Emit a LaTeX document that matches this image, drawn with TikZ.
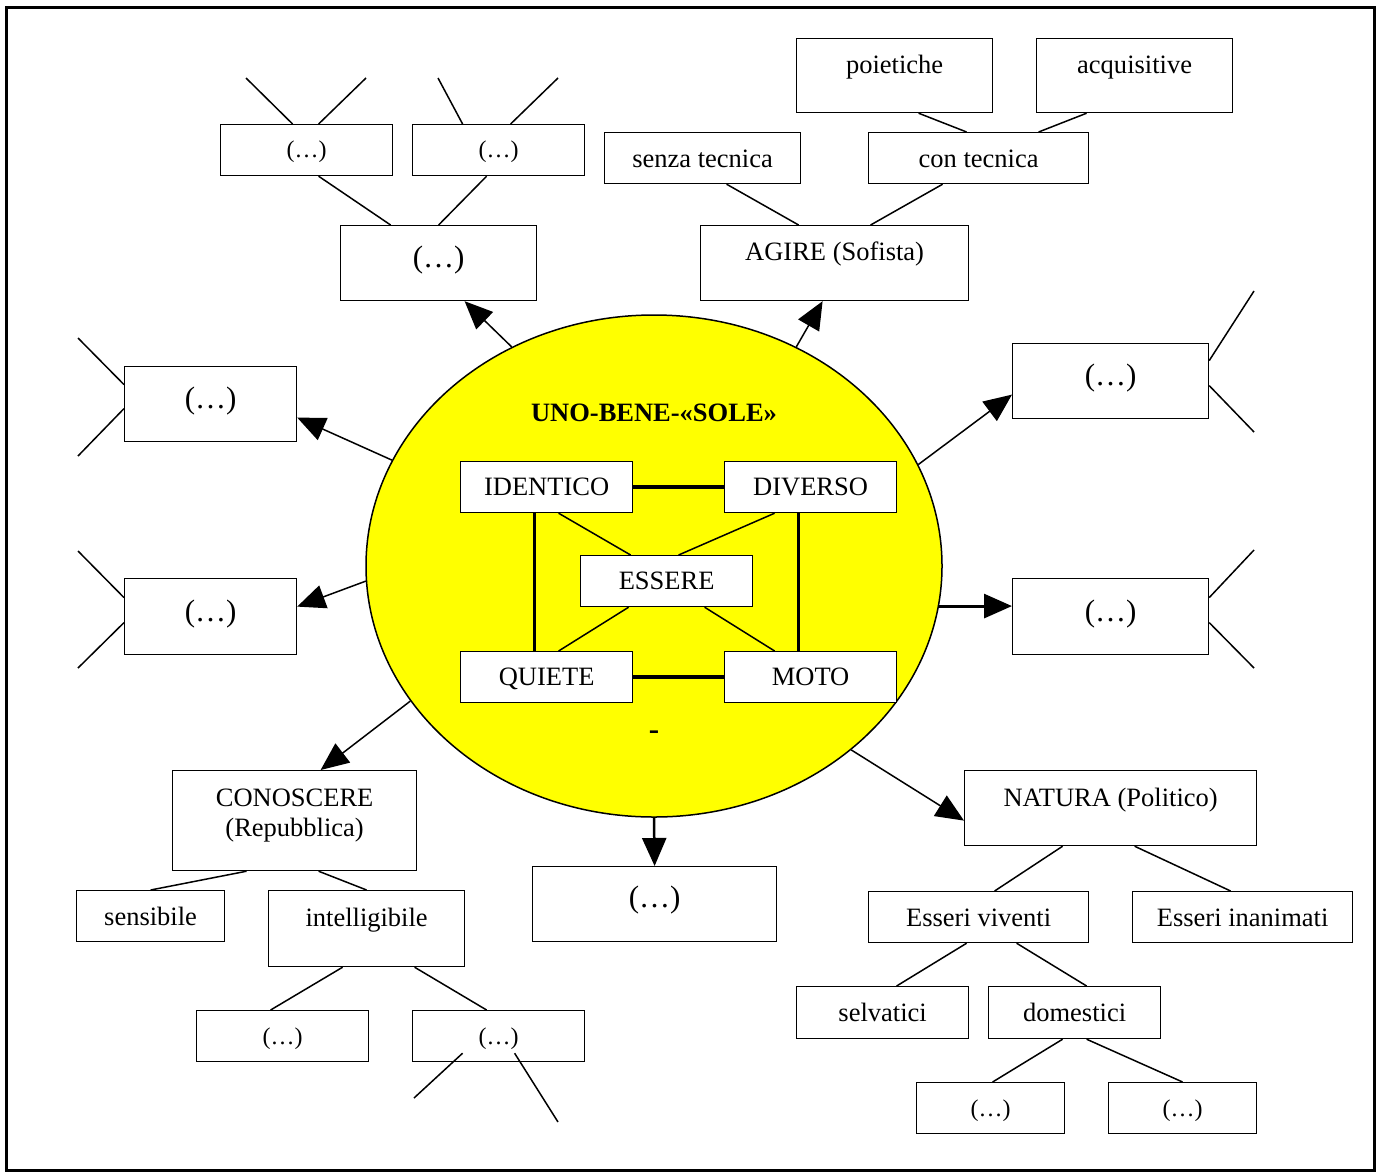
\documentclass[tikz,border=0pt]{standalone}
\usepackage{fontspec}
\setmainfont{Liberation Serif}
\usetikzlibrary{positioning, shapes.geometric, arrows.meta}

\definecolor{giallosole}{RGB}{255,255,0}
\newcommand{\fnorm}{\fontsize{26.5}{30}\selectfont}
\newcommand{\fgrande}{\fontsize{31}{34}\selectfont}
\newcommand{\fpiccolo}{\fontsize{24}{27}\selectfont}

\begin{document}
\begin{tikzpicture}[
    x=1pt, y=-1pt,
    bx/.style n args={3}{draw, fill=white, line width=1.2pt, anchor=north west, inner sep=0pt,
      align=center, minimum width=#1, text height=#2, text depth=#3, font=\fnorm},
    arr/.style={-{Triangle[length=28pt,width=24pt]}, line width=1.5pt},
    link/.style={line width=1.5pt},
    bond/.style={line width=3.5pt}
  ]

  \useasboundingbox (0,0) rectangle (1380,1173);
  \draw[line width=3pt] (6,7) rectangle (1374,1170);

  % il sole al centro
  \node[ellipse, draw, fill=giallosole, line width=1.5pt, minimum width=576pt, minimum height=502pt, inner sep=0pt] (sole) at (654,566) {};
  \node[font=\fnorm\bfseries] (titolo) at (654,413) {UNO-BENE-«SOLE»};
  \node[font=\fgrande\bfseries] (trattino) at (654,735) {-};

  \node[bx={172pt}{34pt}{17pt}] (id) at (460,461) {IDENTICO};
  \node[bx={172pt}{34pt}{17pt}] (di) at (724,461) {DIVERSO};
  \node[bx={172pt}{34pt}{17pt}] (es) at (580,555) {ESSERE};
  \node[bx={172pt}{34pt}{17pt}] (qu) at (460,651) {QUIETE};
  \node[bx={172pt}{34pt}{17pt}] (mo) at (724,651) {MOTO};

  % in alto a sinistra
  \node[bx={196pt}{42pt}{33pt}, font=\fgrande] (tl) at (340,225) {(…)};
  \node[bx={172pt}{33pt}{18pt}, font=\fpiccolo] (tl1) at (220,124) {(…)};
  \node[bx={172pt}{33pt}{18pt}, font=\fpiccolo] (tl2) at (412,124) {(…)};

  % agire
  \node[bx={268pt}{35pt}{40pt}] (agire) at (700,225) {AGIRE (Sofista)};
  \node[bx={196pt}{35pt}{16pt}] (senza) at (604,132) {senza tecnica};
  \node[bx={220pt}{35pt}{16pt}] (con) at (868,132) {con tecnica};
  \node[bx={196pt}{35pt}{39pt}] (poi) at (796,38) {poietiche};
  \node[bx={196pt}{35pt}{39pt}] (acq) at (1036,38) {acquisitive};

  % lati
  \node[bx={196pt}{42pt}{33pt}, font=\fgrande] (r1) at (1012,343) {(…)};
  \node[bx={196pt}{43pt}{33pt}, font=\fgrande] (r2) at (1012,578) {(…)};
  \node[bx={172pt}{42pt}{33pt}, font=\fgrande] (l1) at (124,366) {(…)};
  \node[bx={172pt}{43pt}{33pt}, font=\fgrande] (l2) at (124,578) {(…)};
  \node[bx={244pt}{41pt}{34pt}, font=\fgrande] (basso) at (532,866) {(…)};

  % conoscere
  \node[bx={244pt}{66pt}{34pt}] (cono) at (172,770) {CONOSCERE\\(Repubblica)};
  \node[bx={148pt}{35pt}{16pt}] (sens) at (76,890) {sensibile};
  \node[bx={196pt}{36pt}{40pt}] (intel) at (268,890) {intelligibile};
  \node[bx={172pt}{34pt}{17pt}, font=\fpiccolo] (intel1) at (196,1010) {(…)};
  \node[bx={172pt}{34pt}{17pt}, font=\fpiccolo] (intel2) at (412,1010) {(…)};

  % natura
  \node[bx={292pt}{36pt}{39pt}] (nat) at (964,770) {NATURA (Politico)};
  \node[bx={220pt}{35pt}{16pt}] (viv) at (868,891) {Esseri viventi};
  \node[bx={220pt}{35pt}{16pt}] (inan) at (1132,891) {Esseri inanimati};
  \node[bx={172pt}{35pt}{17pt}] (selv) at (796,986) {selvatici};
  \node[bx={172pt}{35pt}{17pt}] (dom) at (988,986) {domestici};
  \node[bx={148pt}{34pt}{17pt}, font=\fpiccolo] (dom1) at (916,1082) {(…)};
  \node[bx={148pt}{34pt}{17pt}, font=\fpiccolo] (dom2) at (1108,1082) {(…)};

  % estremi liberi
  \coordinate (tl1a) at (246,78);   \coordinate (tl1b) at (366,78);
  \coordinate (tl2a) at (438,78);   \coordinate (tl2b) at (558,78);
  \coordinate (r1a) at (1254,291);  \coordinate (r1b) at (1254,432);
  \coordinate (r2a) at (1254,550);  \coordinate (r2b) at (1254,668);
  \coordinate (l1a) at (78,338);    \coordinate (l1b) at (78,456);
  \coordinate (l2a) at (78,551);    \coordinate (l2b) at (78,668);
  \coordinate (in2a) at (414,1098); \coordinate (in2b) at (558,1122);

  % frecce dal sole
  \draw[arr] (sole.123) -- ([xshift=26pt]tl.south);
  \draw[arr] (sole.57) -- ([xshift=-12pt]agire.south);
  \draw[arr] (sole.21) -- ([yshift=-13.5pt]r1.west);
  \draw[arr, line width=3pt] (sole.-8) -- (sole.-8 -| r2.west);
  \draw[arr] (sole.-43.5) -- ([yshift=-12.5pt]nat.west);
  \draw[arr, line width=2.5pt] (sole.south) -- (basso.north);
  \draw[arr] (sole.209.7) -- ([xshift=26pt]cono.north);
  \draw[arr] (sole.183.4) -- ([yshift=10pt]l2.east);
  \draw[arr] (sole.158.7) -- ([yshift=-13.5pt]l1.east);

  % quadrato interno
  \draw[bond] (id.east) -- (di.west);
  \draw[bond] (qu.east) -- (mo.west);
  \draw[bond] ([xshift=-12pt]id.south) -- ([xshift=-12pt]qu.north);
  \draw[bond] ([xshift=-12pt]di.south) -- ([xshift=-12pt]mo.north);
  \draw[link] ([xshift=12pt]id.south) -- ([xshift=-36pt]es.north);
  \draw[link] ([xshift=-36pt]di.south) -- ([xshift=12pt]es.north);
  \draw[link] ([xshift=-38pt]es.south) -- ([xshift=12pt]qu.north);
  \draw[link] ([xshift=38pt]es.south) -- ([xshift=-36pt]mo.north);

  % rami
  \draw[link] ([xshift=12pt]tl1.south) -- ([xshift=-48pt]tl.north);
  \draw[link] ([xshift=-12pt]tl2.south) -- (tl.north);
  \draw[link] ([xshift=-14pt]tl1.north) -- (tl1a);
  \draw[link] ([xshift=12pt]tl1.north) -- (tl1b);
  \draw[link] ([xshift=-36pt]tl2.north) -- (tl2a);
  \draw[link] ([xshift=12pt]tl2.north) -- (tl2b);

  \draw[link] ([xshift=24pt]senza.south) -- ([xshift=-36pt]agire.north);
  \draw[link] ([xshift=-36pt]con.south) -- ([xshift=36pt]agire.north);
  \draw[link] ([xshift=24pt]poi.south) -- ([xshift=-12pt]con.north);
  \draw[link] ([xshift=-48pt]acq.south) -- ([xshift=60pt]con.north);

  \draw[link] ([yshift=20.5pt]r1.east) -- (r1a);
  \draw[link] ([yshift=-4.5pt]r1.east) -- (r1b);
  \draw[link] ([yshift=19pt]r2.east) -- (r2a);
  \draw[link] ([yshift=-6pt]r2.east) -- (r2b);
  \draw[link] ([yshift=19.5pt]l1.west) -- (l1a);
  \draw[link] ([yshift=-4.5pt]l1.west) -- (l1b);
  \draw[link] ([yshift=19pt]l2.west) -- (l2a);
  \draw[link] ([yshift=-6pt]l2.west) -- (l2b);

  \draw[link] ([xshift=-48pt]cono.south) -- (sens.north);
  \draw[link] ([xshift=24pt]cono.south) -- (intel.north);
  \draw[link] ([xshift=-24pt]intel.south) -- ([xshift=-12pt]intel1.north);
  \draw[link] ([xshift=48pt]intel.south) -- ([xshift=-12pt]intel2.north);
  \draw[link] ([xshift=-36pt, yshift=9pt]intel2.south) -- (in2a);
  \draw[link] ([xshift=16pt, yshift=9pt]intel2.south) -- (in2b);

  \draw[link] ([xshift=-48pt]nat.south) -- ([xshift=16pt]viv.north);
  \draw[link] ([xshift=24pt]nat.south) -- ([xshift=-12pt]inan.north);
  \draw[link] ([xshift=-12pt]viv.south) -- ([xshift=14pt]selv.north);
  \draw[link] ([xshift=38pt]viv.south) -- ([xshift=12pt]dom.north);
  \draw[link] ([xshift=-12pt]dom.south) -- ([xshift=2pt]dom1.north);
  \draw[link] ([xshift=12pt]dom.south) -- (dom2.north);

\end{tikzpicture}
\end{document}
